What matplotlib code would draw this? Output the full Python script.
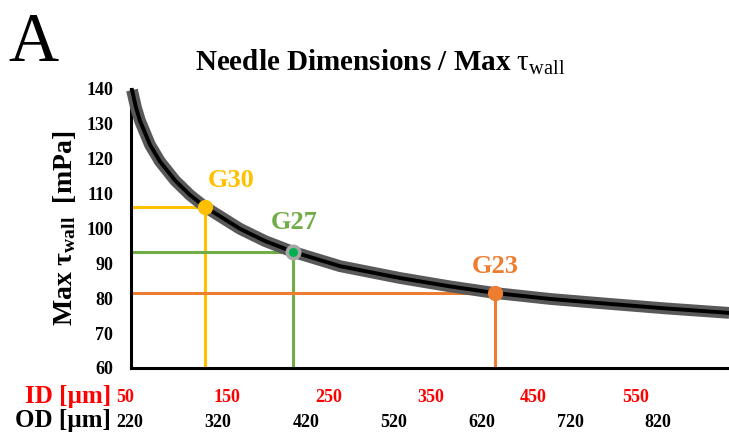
import numpy as np
import matplotlib
matplotlib.use("Agg")
import matplotlib.pyplot as plt
import matplotlib.transforms as mtransforms

plt.rcParams['font.family'] = ['Liberation Serif', 'DejaVu Serif']
plt.rcParams['mathtext.fontset'] = 'custom'
plt.rcParams['mathtext.rm'] = 'Liberation Serif'
plt.rcParams['mathtext.it'] = 'Liberation Serif:italic'
plt.rcParams['mathtext.bf'] = 'Liberation Serif:bold'

# Max wall shear stress curve (x in ID-axis units, tau in mPa)
curve_x = [56.9, 60.8, 64.7, 74.5, 84.3, 99.0, 113.7, 128.4, 162.8, 187.3,
           214.7, 260.8, 319.6, 368.6, 412.7, 466.7, 515.7, 579.4, 642.2]
curve_tau = [139.7, 134.7, 130.9, 124.0, 119.2, 113.8, 109.6, 106.2, 99.9,
             96.4, 93.3, 89.2, 85.8, 83.4, 81.5, 79.8, 78.6, 77.1, 75.8]

# needle gauges on the curve
gauges = ['G30', 'G27', 'G23']
gauge_x = [128.4, 214.7, 412.7]
gauge_tau = [106.2, 93.3, 81.5]
gauge_colors = ['#FFC000', '#70AD47', '#ED7D31']

id_labels = [50, 150, 250, 350, 450, 550]
od_labels = [220, 320, 420, 520, 620, 720, 820]
yticks = [60, 70, 80, 90, 100, 110, 120, 130, 140]


def od_to_x(od):
    # OD row has its own spacing along the ID axis
    return 50 + (5 + (od - 220) * 0.88) / 1.02


fig = plt.figure(figsize=(7.29, 4.32), dpi=100)
ax = fig.add_axes([131 / 729, 1 - 368 / 432, 1 - 131 / 729, (368 - 89) / 432])
ax.set_xlim(55.9, 642)
ax.set_ylim(60, 140)

ax.plot(curve_x, curve_tau, color='#595959', lw=8.5, solid_capstyle='butt',
        solid_joinstyle='round', zorder=3, clip_on=False)
ax.plot(curve_x, curve_tau, color='black', lw=2.8, solid_joinstyle='round',
        zorder=4, clip_on=False)

# label offsets in points
label_off = {'G30': (19, 19), 'G27': (1, 21), 'G23': (0, 19)}
for name, gx, gt, c in zip(gauges, gauge_x, gauge_tau, gauge_colors):
    ax.plot([55.9, gx], [gt, gt], color=c, lw=2.2, zorder=2)
    ax.plot([gx, gx], [60, gt], color=c, lw=2.2, zorder=2)
    if name == 'G27':
        ax.plot(gx, gt, 'o', ms=9, mfc='#00B050', mec='#A6A6A6', mew=2.5,
                zorder=6)
    else:
        ax.plot(gx, gt, 'o', ms=10, color=c, zorder=6)
    ax.annotate(name, (gx, gt), xytext=label_off[name],
                textcoords='offset points', ha='center', va='center',
                color=c, fontsize=19, fontweight='bold')

for s in ['top', 'right']:
    ax.spines[s].set_visible(False)
for s in ['left', 'bottom']:
    ax.spines[s].set_linewidth(2.2)
ax.set_xticks([])
ax.set_yticks(yticks)
ax.tick_params(axis='y', length=0, pad=13, labelsize=13)
for t in ax.get_yticklabels():
    t.set_fontweight('bold')

ax.set_ylabel(r'Max $\mathbf{\tau}_{\mathbf{wall}}$  [mPa]', fontsize=20,
              fontweight='bold', labelpad=6)

trans = mtransforms.blended_transform_factory(ax.transData, ax.transAxes)
for v in id_labels:
    ax.text(v, -0.105, str(v), transform=trans, ha='center', va='center',
            color='red', fontsize=13, fontweight='bold', clip_on=False)
for v in od_labels:
    ax.text(od_to_x(v), -0.195, str(v), transform=trans, ha='center',
            va='center', color='black', fontsize=13, fontweight='bold',
            clip_on=False)
fig.text(111 / 729, 1 - 396 / 432, 'ID [\u00b5m]', ha='right', va='center',
         color='red', fontsize=18, fontweight='bold')
fig.text(111 / 729, 1 - 421 / 432, 'OD [\u00b5m]', ha='right', va='center',
         color='black', fontsize=18, fontweight='bold')

fig.text(380 / 729, 1 - 62 / 432, r'Needle Dimensions / Max $\mathrm{\tau}_{\mathrm{wall}}$',
         ha='center', va='center', fontsize=21, fontweight='bold')
fig.text(8 / 729, 1 - 44 / 432, 'A', ha='left', va='center', fontsize=50)

fig.savefig('out.png', dpi=100)
